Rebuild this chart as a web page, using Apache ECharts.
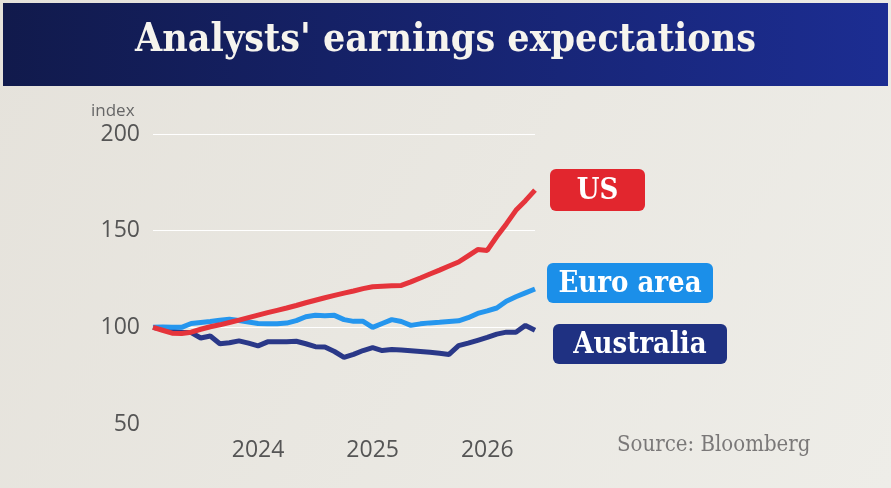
<!DOCTYPE html>
<html>
<head>
<meta charset="utf-8">
<script src="https://cdn.jsdelivr.net/npm/echarts@6/dist/echarts.min.js"></script>
<style>
  html, body { margin: 0; padding: 0; background: #fff; }
  #chart { width: 891px; height: 488px; }
</style>
</head>
<body>
<div id="chart"></div>
<script>
// monthly points, Feb 2023 .. Jun 2026
const months = [
  "2023-02", "2023-03", "2023-04", "2023-05", "2023-06", "2023-07", "2023-08", "2023-09", "2023-10", "2023-11", "2023-12",
  "2024-01", "2024-02", "2024-03", "2024-04", "2024-05", "2024-06", "2024-07", "2024-08", "2024-09", "2024-10", "2024-11", "2024-12",
  "2025-01", "2025-02", "2025-03", "2025-04", "2025-05", "2025-06", "2025-07", "2025-08", "2025-09", "2025-10", "2025-11", "2025-12",
  "2026-01", "2026-02", "2026-03", "2026-04", "2026-05", "2026-06"
];
const usValues = [
  100, 98.5, 97, 96.8, 97.5, 99, 100.3, 101.3, 102.5, 103.7, 105,
  106.3, 107.6, 108.8, 110, 111.3, 112.7, 114, 115.3, 116.5, 117.7, 118.8, 120,
  121, 121.3, 121.5, 121.7, 123.5, 125.5, 127.6, 129.6, 131.7, 133.8, 137, 140.2,
  139.8, 147, 153.5, 160.5, 165.5, 171
];
const euroValues = [
  100, 100.2, 100, 100, 102, 102.5, 103, 103.7, 104.2, 103.5, 102.8,
  102, 101.9, 101.8, 102.2, 103.5, 105.5, 106.2, 106, 106.2, 104, 103.1, 103.1,
  100, 102, 104, 103, 101, 101.8, 102.3, 102.6, 103, 103.4, 105, 107.2,
  108.5, 110, 113.5, 115.8, 117.8, 119.8
];
const australiaValues = [
  100, 99, 98, 97.5, 97.3, 94.5, 95.5, 91.5, 92, 93, 91.8,
  90.4, 92.5, 92.6, 92.6, 92.8, 91.5, 90, 89.8, 87.5, 84.5, 86, 88,
  89.5, 88, 88.5, 88.3, 87.9, 87.5, 87.1, 86.6, 86, 90.5, 91.8, 93.3,
  94.8, 96.5, 97.5, 97.5, 101, 98.5
];
const yearLabels = [2024, 2025, 2026];

const titleText = "Analysts' earnings expectations";
const sourceText = "Source: Bloomberg";

function toYear(m) {
  const parts = m.split("-");
  return Number(parts[0]) + (Number(parts[1]) - 1) / 12;
}
const xs = months.map(toYear);
function pairs(vals) {
  return vals.map(function (v, i) { return [xs[i], v]; });
}

const serif = "'DejaVu Serif Condensed', 'DejaVu Serif', serif";
const sans = "'Open Sans', 'Noto Sans', sans-serif";

function tag(x, y, w, h, color, text) {
  return {
    type: "group",
    left: x,
    top: y,
    children: [
      {
        type: "rect",
        shape: { x: 0, y: 0, width: w, height: h, r: 6 },
        style: { fill: color }
      },
      {
        type: "text",
        x: w / 2,
        y: h / 2 + 1,
        style: {
          text: text,
          fill: "#ffffff",
          font: "bold 29px " + serif,
          align: "center",
          verticalAlign: "middle"
        }
      }
    ]
  };
}

const chart = echarts.init(document.getElementById("chart"));
const option = {
  animation: false,
  backgroundColor: {
    type: "linear", x: 0, y: 0, x2: 1, y2: 1,
    colorStops: [
      { offset: 0, color: "#e5e2db" },
      { offset: 1, color: "#eeede8" }
    ]
  },
  grid: { left: 153, right: 356, top: 134, bottom: 64 },
  xAxis: {
    type: "value",
    min: xs[0],
    max: xs[xs.length - 1],
    axisLine: { show: false },
    axisTick: { show: false },
    splitLine: { show: false },
    axisLabel: {
      customValues: yearLabels,
      formatter: function (v) { return String(Math.round(v)); },
      color: "#555555",
      fontFamily: sans,
      fontSize: 23,
      margin: 15
    }
  },
  yAxis: {
    type: "value",
    min: 50,
    max: 200,
    interval: 50,
    axisLine: { show: false },
    axisTick: { show: false },
    axisLabel: {
      color: "#555555",
      fontFamily: sans,
      fontSize: 23,
      margin: 13
    },
    splitLine: {
      lineStyle: { color: ["rgba(255,255,255,0)", "#ffffff", "#ffffff", "#ffffff"], width: 1.2 }
    }
  },
  series: [
    {
      name: "Australia",
      type: "line",
      symbol: "none",
      lineStyle: { color: "#2a3888", width: 5 },
      data: pairs(australiaValues)
    },
    {
      name: "Euro area",
      type: "line",
      symbol: "none",
      lineStyle: { color: "#2596ee", width: 5 },
      data: pairs(euroValues)
    },
    {
      name: "US",
      type: "line",
      symbol: "none",
      lineStyle: { color: "#e5343b", width: 5 },
      data: pairs(usValues)
    }
  ],
  graphic: [
    {
      type: "rect",
      left: 3,
      top: 3,
      shape: { width: 885, height: 83 },
      style: {
        fill: {
          type: "linear", x: 0, y: 0, x2: 1, y2: 0,
          colorStops: [
            { offset: 0, color: "#111a4c" },
            { offset: 1, color: "#1c2d92" }
          ]
        }
      }
    },
    {
      type: "text",
      left: "center",
      top: 21,
      style: {
        text: titleText,
        fill: "#f6f4ee",
        font: "bold 39px " + serif
      }
    },
    {
      type: "text",
      left: 91,
      top: 103,
      style: { text: "index", fill: "#666666", font: "17px " + sans }
    },
    tag(550, 169, 95, 42, "#e2262e", "US"),
    tag(547, 263, 166, 40, "#1b8fe9", "Euro area"),
    tag(553, 324, 174, 40, "#1f3182", "Australia"),
    {
      type: "text",
      left: 617,
      top: 434,
      style: { text: sourceText, fill: "#7a7878", font: "22px " + serif }
    }
  ]
};
chart.setOption(option);
window.addEventListener("resize", function () {
  chart.resize();
});
</script>
</body>
</html>
